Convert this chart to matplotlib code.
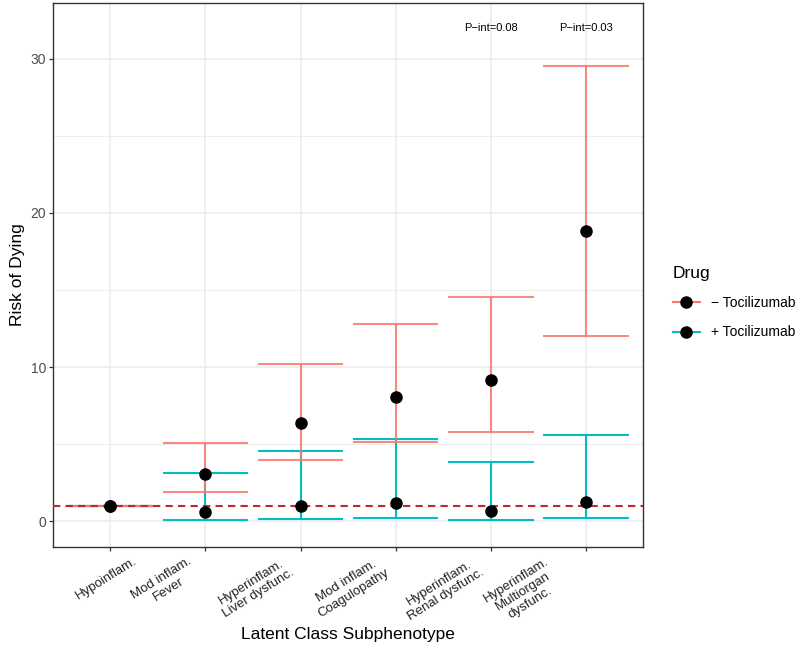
import numpy as np
import matplotlib
matplotlib.use("Agg")
from matplotlib import pyplot as plt
from matplotlib.lines import Line2D
from matplotlib.transforms import ScaledTranslation

plt.rcParams['font.family'] = ['Liberation Sans', 'DejaVu Sans']

# subphenotypes (x axis)
categories = ['Hypoinflam.',
              'Mod inflam.\nFever',
              'Hyperinflam.\nLiver dysfunc.',
              'Mod inflam.\nCoagulopathy',
              'Hyperinflam.\nRenal dysfunc.',
              'Hyperinflam.\nMultiorgan\ndysfunc.']

# - Tocilizumab
minus_est = [1.0, 3.07, 6.36, 8.09, 9.17, 18.82]
minus_lo = [1.0, 1.88, 4.00, 5.13, 5.80, 12.00]
minus_hi = [1.0, 5.06, 10.17, 12.81, 14.54, 29.50]

# + Tocilizumab
plus_est = [1.0, 0.58, 0.97, 1.17, 0.69, 1.22]
plus_lo = [1.0, 0.09, 0.15, 0.22, 0.09, 0.24]
plus_hi = [1.0, 3.14, 4.54, 5.32, 3.87, 5.60]

group_names = ['\u2212 Tocilizumab', '+ Tocilizumab']
pint_cat = [5, 6]
pint_text = ['P\u2212int=0.08', 'P\u2212int=0.03']
pint_y = 32

red = '#F8766D'
teal = '#00BFC4'

mydpi = 100
fig = plt.figure(figsize=(800 / mydpi, 651 / mydpi), dpi=mydpi)
ax = fig.add_axes([0.0666, 0.1602, 0.737, 0.835])

x = np.arange(1, len(categories) + 1)
half_w = 0.45

# grid
ax.set_axisbelow(True)
ax.set_yticks([0, 10, 20, 30])
ax.set_yticks([5, 15, 25], minor=True)
ax.grid(True, which='major', color='#EBEBEB', lw=1.1)
ax.grid(True, which='minor', axis='y', color='#EBEBEB', lw=0.6)

# reference line
ax.axhline(1, color='#C1272D', ls=(0, (3.5, 2.5)), lw=1.5, zorder=4)

# error bars: + first, - on top
for est, lo, hi, c, a in [(plus_est, plus_lo, plus_hi, teal, 1.0),
                          (minus_est, minus_lo, minus_hi, red, 0.85)]:
    ax.vlines(x, lo, hi, color=c, lw=1.5, alpha=a, zorder=3)
    ax.hlines(lo, x - half_w, x + half_w, color=c, lw=1.5, alpha=a, zorder=3)
    ax.hlines(hi, x - half_w, x + half_w, color=c, lw=1.5, alpha=a, zorder=3)

ax.plot(x, minus_est, 'o', color='black', ms=8, zorder=5)
ax.plot(x, plus_est, 'o', color='black', ms=8, zorder=5)

for cx, t in zip(pint_cat, pint_text):
    ax.text(cx, pint_y, t, ha='center', va='center', fontsize=8, color='black')

ax.set_xlim(0.4, 6.6)
ax.set_ylim(-1.65, 33.6)

for s in ax.spines.values():
    s.set_color('#333333')
    s.set_linewidth(1.0)
ax.tick_params(axis='both', which='major', length=3, width=0.9, color='#333333')
ax.tick_params(axis='y', which='minor', length=0)
ax.tick_params(axis='y', labelsize=10, labelcolor='#4D4D4D', pad=2)

ax.set_xticks(x)
ax.set_xticklabels(categories, rotation=32, ha='right', va='top',
                   multialignment='center', fontsize=9.5, color='#222222')
ax.tick_params(axis='x', pad=3)
# horizontal nudge (points) by number of extra lines in the label
shift_pt = {0: 21, 1: -3, 2: -15}
for lab, cat in zip(ax.get_xticklabels(), categories):
    dx = shift_pt[cat.count('\n')] / 72
    lab.set_transform(lab.get_transform() + ScaledTranslation(dx, 0, fig.dpi_scale_trans))

ax.set_xlabel('Latent Class Subphenotype', fontsize=12.5, va='center')
ax.xaxis.set_label_coords(0.5, -0.1624)
ax.set_ylabel('Risk of Dying', fontsize=12.5, labelpad=4)

handles = [Line2D([], [], color=c, lw=1.5, marker='o', ms=8, mfc='black', mec='black')
           for c in [red, teal]]
leg = fig.legend(handles, group_names, title='Drug', loc='center left',
                 bbox_to_anchor=(0.825, 0.535), frameon=False, fontsize=10,
                 title_fontsize=12.5, handlelength=2.0, labelspacing=1.1,
                 alignment='left')

fig.savefig('out.png', dpi=mydpi)
